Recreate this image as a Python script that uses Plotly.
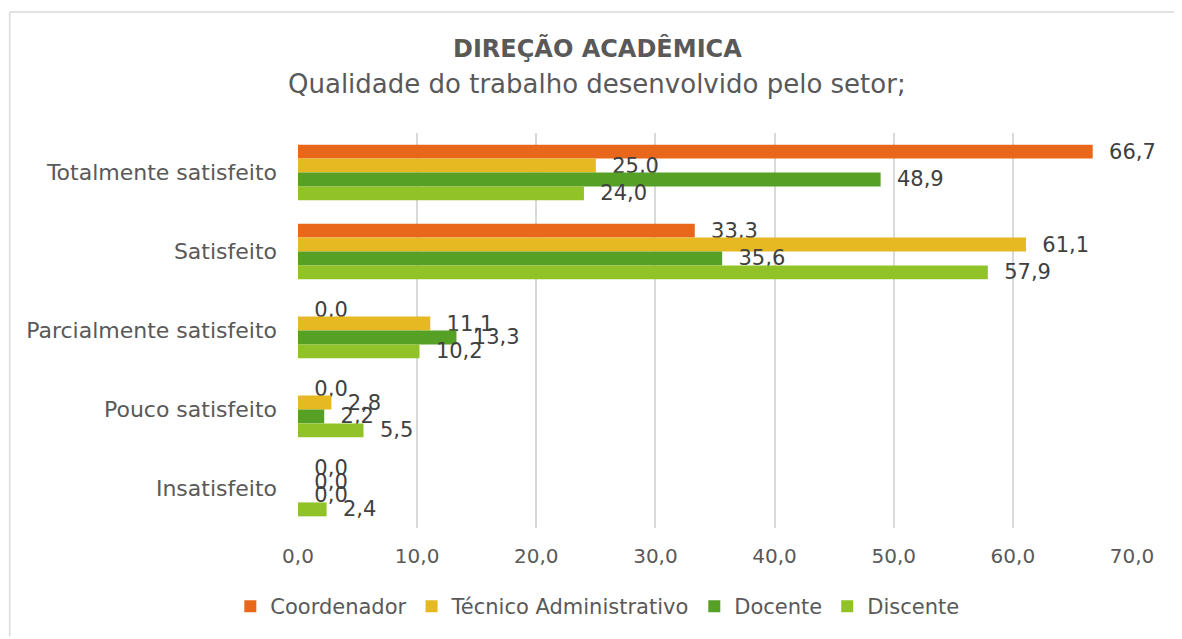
import plotly.graph_objects as go

categories = ["Totalmente satisfeito", "Satisfeito", "Parcialmente satisfeito",
              "Pouco satisfeito", "Insatisfeito"]
series_names = ["Coordenador", "Técnico Administrativo", "Docente", "Discente"]
coordenador = [66.7, 33.3, 0.0, 0.0, 0.0]
tecnico = [25.0, 61.1, 11.1, 2.8, 0.0]
docente = [48.9, 35.6, 13.3, 2.2, 0.0]
discente = [24.0, 57.9, 10.2, 5.5, 2.4]
x_ticks = [0, 10, 20, 30, 40, 50, 60, 70]
title_main = "DIREÇÃO ACADÊMICA"
title_sub = "Qualidade do trabalho desenvolvido pelo setor;"

colors = ["#E8671A", "#E6B821", "#55A025", "#91C328"]
FONT = "DejaVu Sans"
GREY = "#595959"

OFF = 8  # page body margin
W, H = 1182 - OFF, 639 - OFF
# plot area in screen pixels
SL, SR, ST, SB = 297.5, 1132, 133, 530
L, T = SL - OFF, ST - OFF
R, B = W - (SR - OFF), H - (SB - OFF)
pw, ph = SR - SL, SB - ST

def px(xs):
    return (xs - SL) / pw

def py(ys):
    return (SB - ys) / ph

fig = go.Figure()
for name, vals, col in zip(series_names, [coordenador, tecnico, docente, discente], colors):
    fig.add_trace(go.Bar(
        y=categories, x=vals, name=name, orientation="h",
        marker=dict(color=col, line=dict(width=0)),
        texttemplate="\u00a0\u00a0%{x:.1f}", textposition="outside",
        textfont=dict(family=FONT, size=21, color="#404040"),
        cliponaxis=False, constraintext="none",
    ))

fig.update_layout(
    width=W, height=H,
    margin=dict(l=L, r=R, t=T, b=B, pad=0),
    paper_bgcolor="white", plot_bgcolor="white",
    barmode="group", bargap=0.295, bargroupgap=0,
    separators=",.",
    font=dict(family=FONT, color=GREY),
    showlegend=True,
    legend=dict(orientation="h", x=px(597), xanchor="center", y=py(609), yanchor="middle",
                font=dict(family=FONT, size=21, color=GREY), traceorder="normal",
                itemclick=False),
    xaxis=dict(range=[0, 70], tickvals=x_ticks, tickformat=".1f",
               showgrid=True, gridcolor="#D9D9D9", gridwidth=1.5,
               zeroline=False, showline=False, ticks="",
               ticklabelstandoff=14,
               tickfont=dict(family=FONT, size=20, color=GREY)),
    yaxis=dict(autorange="reversed", showgrid=False, zeroline=False,
               showline=False, ticks="", ticklabelstandoff=20,
               tickfont=dict(family=FONT, size=22, color=GREY)),
    annotations=[
        dict(text="<b>" + title_main + "</b>", xref="paper", yref="paper",
             x=px(597), y=py(48), xanchor="center", yanchor="middle", showarrow=False,
             font=dict(family=FONT, size=24, color=GREY)),
        dict(text=title_sub, xref="paper", yref="paper",
             x=px(597), y=py(84), xanchor="center", yanchor="middle", showarrow=False,
             font=dict(family=FONT, size=26, color=GREY)),
    ],
    shapes=[
        dict(type="line", xref="paper", yref="paper", x0=px(9), x1=px(1182),
             y0=py(11.5), y1=py(11.5), line=dict(color="#D9D9D9", width=1.5)),
        dict(type="line", xref="paper", yref="paper", x0=px(9), x1=px(9),
             y0=py(11.5), y1=py(639), line=dict(color="#D9D9D9", width=1.5)),
    ],
)

fig.write_html("out.html")
